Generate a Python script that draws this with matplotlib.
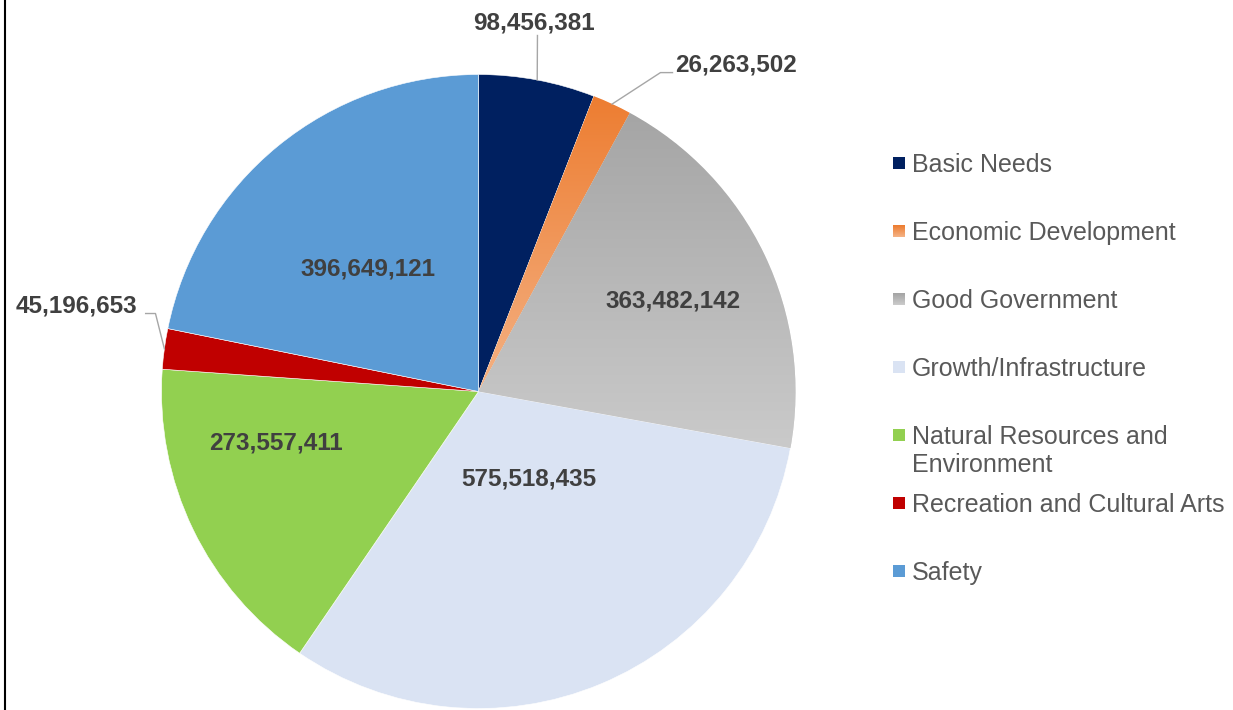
import matplotlib.pyplot as plt
import numpy as np
from matplotlib.patches import Rectangle
from matplotlib.lines import Line2D
from matplotlib.colors import LinearSegmentedColormap

categories = ["Basic Needs", "Economic Development", "Good Government", "Growth/Infrastructure",
              "Natural Resources and Environment", "Recreation and Cultural Arts", "Safety"]
amounts = [98456381, 26263502, 363482142, 575518435, 273557411, 45196653, 396649121]
# slice sizes as drawn in the picture (percent of the circle)
slice_pct = [5.93, 1.99, 19.94, 31.68, 16.58, 2.06, 21.82]
colors = ["#002060", "#ED7D31", "#A5A5A5", "#DAE3F3", "#92D050", "#C00000", "#5B9BD5"]
# slices filled with a top-to-bottom gradient (top colour, bottom colour)
gradients = {1: ("#ED7D31", "#F4B183"), 2: ("#A5A5A5", "#CACACA")}

# label centres in pie units (radius 1), and leader line bends for outside labels
label_pos = [(0.1735, 1.170), (0.811, 1.038), (0.615, 0.293), (0.158, -0.268),
             (-0.640, -0.155), (-1.267, 0.278), (-0.350, 0.394)]
leaders = {0: [(0.186, 1.123)],
           1: [(0.574, 1.006), (0.612, 1.006)],
           5: [(-1.019, 0.246), (-1.050, 0.246)]}

plt.rcParams["font.family"] = ["Liberation Sans", "DejaVu Sans"]

W, H = 1233, 710
fig = plt.figure(figsize=(W / 100, H / 100), dpi=100)
cx, cy, R = 478.5, 391.5, 317
ax = fig.add_axes([(cx - R) / W, (H - cy - R) / H, 2 * R / W, 2 * R / H])

wedges, _ = ax.pie(slice_pct, colors=colors, startangle=90, counterclock=False, radius=1,
                   wedgeprops=dict(edgecolor="white", linewidth=0.4))
for w in wedges:
    w.set_clip_on(False)

grad = np.linspace(0, 1, 256).reshape(-1, 1)
for i, (top, bottom) in gradients.items():
    w = wedges[i]
    ext = w.get_path().get_extents()
    cmap = LinearSegmentedColormap.from_list("grad%d" % i, [bottom, top])
    im = ax.imshow(grad, cmap=cmap, extent=[ext.x0, ext.x1, ext.y0, ext.y1],
                   origin="lower", aspect="auto", zorder=w.get_zorder() + 0.1)
    im.set_clip_path(w)

ax.set_xlim(-1, 1)
ax.set_ylim(-1, 1)
ax.set_aspect("equal")
ax.axis("off")

# data labels
half_cap = 8.7 / R
for i, val in enumerate(amounts):
    x, y = label_pos[i]
    ax.text(x, y - half_cap, f"{val:,}", ha="center", va="baseline", fontsize=17.5,
            fontweight="bold", color="#404040", zorder=5)
    if i in leaders:
        ang = np.deg2rad((wedges[i].theta1 + wedges[i].theta2) / 2)
        pts = [(np.cos(ang), np.sin(ang))] + leaders[i]
        xs, ys = zip(*pts)
        ax.plot(xs, ys, color="#A6A6A6", lw=1, clip_on=False, zorder=4)

# legend
for i, name in enumerate(categories):
    yc = 163 + 68 * i
    lines = name.replace("and Environment", "and\nEnvironment").split("\n")
    if i in gradients:
        cm = LinearSegmentedColormap.from_list("lg%d" % i, [gradients[i][1], gradients[i][0]])
        block = np.repeat(np.linspace(0, 1, 12).reshape(-1, 1), 12, axis=1)
        fig.figimage(block, xo=893, yo=H - yc - 6, cmap=cm, origin="lower", zorder=5)
    else:
        fig.add_artist(Rectangle((893 / W, (H - yc - 6) / H), 12 / W, 12 / H,
                                 transform=fig.transFigure, facecolor=colors[i], edgecolor="none"))
    for j, line in enumerate(lines):
        fig.text(912 / W, (H - yc - 9 - 28 * j) / H, line, fontsize=18, color="#595959",
                 va="baseline", ha="left")

# left border line
fig.add_artist(Line2D([4.5 / W, 4.5 / W], [0, 1], transform=fig.transFigure, color="black", lw=1.5))

fig.savefig("out.png", dpi=100)
